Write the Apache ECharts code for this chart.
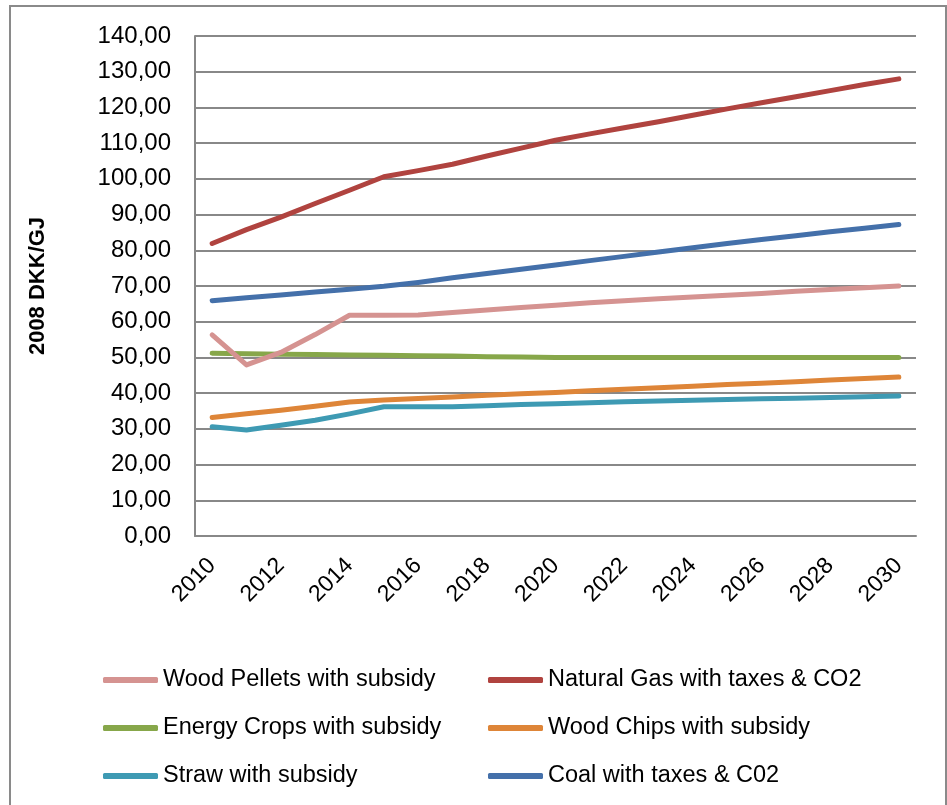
<!DOCTYPE html>
<html>
<head>
<meta charset="utf-8">
<script src="https://cdn.jsdelivr.net/npm/echarts@6/dist/echarts.min.js"></script>
<style>
  html, body { margin: 0; padding: 0; background: #fff; }
  #chart { width: 947px; height: 805px; }
</style>
</head>
<body>
<div id="chart"></div>
<script>
var years = ['2010','2011','2012','2013','2014','2015','2016','2017','2018','2019','2020',
             '2021','2022','2023','2024','2025','2026','2027','2028','2029','2030'];

var woodPellets = [56.3, 47.9, 51.4, 56.4, 61.8, 61.8, 61.9, 62.6, 63.3, 64.0, 64.6,
                   65.3, 65.9, 66.4, 66.9, 67.4, 67.9, 68.5, 69.0, 69.5, 70.0];
var naturalGas = [81.9, 85.8, 89.3, 93.1, 96.8, 100.6, 102.3, 104.1, 106.4, 108.6, 110.8,
                  112.6, 114.3, 116.0, 117.8, 119.6, 121.3, 123.0, 124.7, 126.4, 128.0];
var energyCrops = [51.2, 51.0, 50.9, 50.8, 50.7, 50.6, 50.5, 50.4, 50.2, 50.1, 50.0,
                   50.0, 50.0, 50.0, 50.0, 50.0, 50.0, 50.0, 50.0, 50.0, 50.0];
var woodChips = [33.2, 34.2, 35.2, 36.3, 37.5, 38.1, 38.5, 38.9, 39.4, 39.8, 40.2,
                 40.7, 41.1, 41.5, 41.9, 42.4, 42.8, 43.2, 43.7, 44.1, 44.5];
var straw = [30.6, 29.7, 31.0, 32.4, 34.2, 36.2, 36.2, 36.2, 36.5, 36.8, 37.0,
             37.3, 37.6, 37.8, 38.0, 38.2, 38.4, 38.6, 38.8, 39.0, 39.2];
var coal = [65.9, 66.7, 67.5, 68.3, 69.1, 69.9, 71.0, 72.3, 73.5, 74.7, 75.9,
            77.1, 78.3, 79.5, 80.7, 81.9, 83.0, 84.1, 85.2, 86.2, 87.2];

var names = ['Wood Pellets with subsidy', 'Natural Gas with taxes & CO2',
             'Energy Crops with subsidy', 'Wood Chips with subsidy',
             'Straw with subsidy', 'Coal with taxes & C02'];
var colors = ['#D59391', '#B0433F', '#87A74A', '#DE8538', '#3E9AB3', '#4470AA'];
var values = [woodPellets, naturalGas, energyCrops, woodChips, straw, coal];

var font = 'Liberation Sans, Arial, sans-serif';

var chart = echarts.init(document.getElementById('chart'));

var series = names.map(function (n, i) {
    return {
        name: n,
        type: 'line',
        data: values[i],
        symbol: 'none',
        color: colors[i],
        lineStyle: { width: 5, cap: 'round', join: 'round' },
        z: 10 - i
    };
});

var legendStyle = {
    orient: 'vertical',
    icon: 'roundRect',
    itemWidth: 55,
    itemHeight: 6,
    itemGap: 24,
    textStyle: { fontFamily: font, fontSize: 23.5, color: '#000', lineHeight: 24 }
};

chart.setOption({
    animation: false,
    backgroundColor: '#fff',
    graphic: [{
        type: 'rect',
        shape: { x: 10, y: 6, width: 936, height: 820 },
        style: { fill: 'none', stroke: '#8a8a8a', lineWidth: 2 },
        silent: true
    }],
    legend: [
        Object.assign({ left: 98, top: 663, data: [names[0], names[2], names[4]] }, legendStyle),
        Object.assign({ left: 483, top: 663, data: [names[1], names[3], names[5]] }, legendStyle)
    ],
    grid: { left: 195, right: 31, top: 36, bottom: 269 },
    xAxis: {
        type: 'category',
        data: years,
        boundaryGap: true,
        axisLine: { lineStyle: { color: '#888', width: 2 } },
        axisTick: { show: false },
        axisLabel: {
            interval: 1,
            rotate: 45,
            margin: 26,
            fontFamily: font,
            fontSize: 23,
            color: '#000'
        }
    },
    yAxis: {
        type: 'value',
        min: 0,
        max: 140,
        interval: 10,
        name: '2008 DKK/GJ',
        nameLocation: 'middle',
        nameGap: 146,
        nameTextStyle: { fontFamily: font, fontSize: 22, fontWeight: 'bold', color: '#000' },
        axisLine: { show: true, lineStyle: { color: '#888', width: 2 } },
        axisTick: { show: false },
        splitLine: { lineStyle: { color: '#888', width: 2 } },
        axisLabel: {
            margin: 24,
            fontFamily: font,
            fontSize: 24,
            color: '#000',
            formatter: function (v) { return v.toFixed(2).replace('.', ','); }
        }
    },
    series: series
});
</script>
</body>
</html>
